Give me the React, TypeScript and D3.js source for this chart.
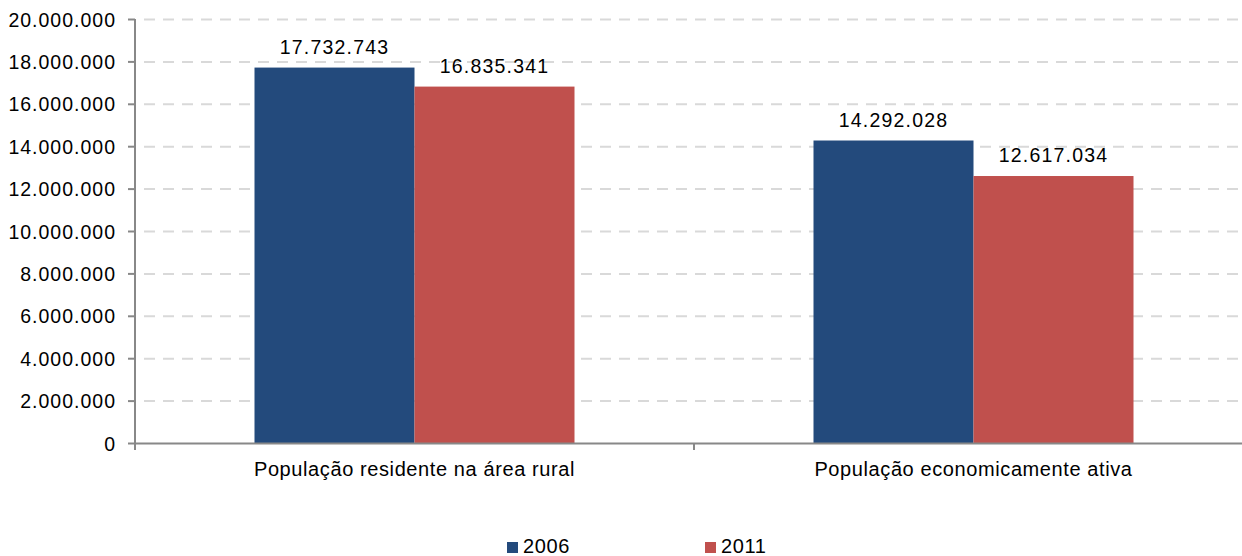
import React from "react";
import * as d3 from "d3";

const categories = ["População residente na área rural", "População economicamente ativa"];
const seriesNames = ["2006", "2011"];
const values2006 = [17732743, 14292028];
const values2011 = [16835341, 12617034];
const yTicks = [0, 2000000, 4000000, 6000000, 8000000, 10000000, 12000000, 14000000, 16000000, 18000000, 20000000];
const colors = ["#234A7C", "#C0504D"];

const W = 1242;
const H = 556;
const font = "'Liberation Sans', Arial, sans-serif";

const locale = d3.formatLocale({ decimal: ",", thousands: ".", grouping: [3], currency: ["R$", ""] });
const fmt = locale.format(",d");

export default function App() {
  const y = d3.scaleLinear().domain([0, 20000000]).range([443.5, 19.5]);
  const x = d3.scaleBand<string>().domain(categories).range([135, 1253]).paddingInner(0).paddingOuter(0);
  const barW = 160;
  const x1 = d3.scaleBand<string>().domain(seriesNames).range([0, barW * 2]);
  const seriesVals = [values2006, values2011];
  const axisColor = "#888888";

  return (
    <svg width={W} height={H} style={{ position: "absolute", left: 0, top: 0, background: "#fff" }}>
      {/* gridlines */}
      {yTicks.filter((t) => t > 0).map((t) => (
        <line key={"g" + t} x1={136} x2={1253} y1={y(t)} y2={y(t)} stroke="#D9D9D9" strokeWidth={2} strokeDasharray="11,8" strokeDashoffset={-8} />
      ))}
      {/* bars */}
      {categories.map((c, ci) => {
        const cx = (x(c) as number) + x.bandwidth() / 2;
        const start = cx - barW;
        return seriesNames.map((s, si) => {
          const v = seriesVals[si][ci];
          const bx = start + (x1(s) as number);
          return (
            <g key={c + s}>
              <rect x={bx} y={y(v)} width={x1.bandwidth()} height={y(0) - y(v)} fill={colors[si]} />
              <text x={bx + x1.bandwidth() / 2} y={y(v) - 14} textAnchor="middle" fontFamily={font} fontSize={19.5} letterSpacing={1.2} fill="#000">
                {fmt(v)}
              </text>
            </g>
          );
        });
      })}
      {/* y axis */}
      <line x1={135} x2={135} y1={19} y2={450} stroke={axisColor} strokeWidth={2} />
      {yTicks.map((t) => (
        <g key={"t" + t}>
          <line x1={128} x2={135} y1={y(t)} y2={y(t)} stroke={axisColor} strokeWidth={2} />
          <text x={116} y={y(t) + 7} textAnchor="end" fontFamily={font} fontSize={19.5} letterSpacing={1.0} fill="#000">
            {fmt(t)}
          </text>
        </g>
      ))}
      {/* x axis */}
      <line x1={134} x2={1253} y1={y(0)} y2={y(0)} stroke={axisColor} strokeWidth={2} />
      {[0, 1, 2].map((i) => {
        const px = i < categories.length ? (x(categories[i]) as number) : (x(categories[categories.length - 1]) as number) + x.bandwidth();
        return <line key={"xt" + i} x1={px} x2={px} y1={y(0)} y2={450} stroke={axisColor} strokeWidth={2} />;
      })}
      {categories.map((c) => (
        <text key={"c" + c} x={(x(c) as number) + x.bandwidth() / 2} y={476} textAnchor="middle" fontFamily={font} fontSize={20} letterSpacing={0.6} fill="#000">
          {c}
        </text>
      ))}
      {/* legend */}
      {seriesNames.map((s, i) => {
        const lx = [507, 705][i];
        return (
          <g key={"l" + s}>
            <rect x={lx} y={542} width={11} height={11} fill={colors[i]} />
            <text x={lx + 16} y={553} fontFamily={font} fontSize={20} letterSpacing={0.6} fill="#000">
              {s}
            </text>
          </g>
        );
      })}
    </svg>
  );
}
